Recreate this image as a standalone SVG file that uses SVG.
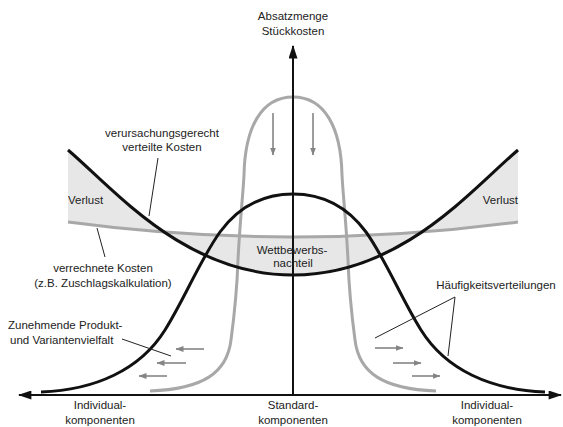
<svg xmlns="http://www.w3.org/2000/svg" width="563" height="427" viewBox="0 0 563 427">
<style>
text{font-family:"Liberation Sans",Arial,sans-serif;font-size:11.5px;fill:#222;text-anchor:middle}
.blk{fill:none;stroke:#111;stroke-width:3}
.gry{fill:none;stroke:#a8a8a8;stroke-width:3}
.ax{fill:none;stroke:#111;stroke-width:2}
.lead{fill:none;stroke:#222;stroke-width:1}
.ga{fill:none;stroke:#858585;stroke-width:1.6}
</style>
<defs>
<marker id="axh" viewBox="0 0 12 8" refX="11" refY="4" markerWidth="14" markerHeight="9" markerUnits="userSpaceOnUse" orient="auto-start-reverse">
<path d="M0,0 L12,4 L0,8 Z" fill="#111"/>
</marker>
<marker id="gh" viewBox="0 0 8 6" refX="7.5" refY="3" markerWidth="8" markerHeight="6" markerUnits="userSpaceOnUse" orient="auto">
<path d="M0,0 L8,3 L0,6 Z" fill="#858585"/>
</marker>
</defs>
<g id="cost-difference-area">
<path d="M68,150 C115,190 185,275 293,275 C401,275 471,190 518,150 L518,222 Q293,252 68,222 Z" fill="#e7e7e7" stroke="none"/>
</g>
<g id="verrechnete-kosten-curve"><path class="gry" d="M68,222 Q293,252 518,222"/></g>
<g id="gray-distribution"><path class="gry" d="M150,391 C203,389 227,373 231,340 C235,310 237,290 238,260 C240,220 243,195 244,175 C245,128 261,97 293,97 C325,97 341,128 342,175 C343,195 346,220 348,260 C349,290 351,310 355,340 C359,373 383,389 436,391"/></g>
<g id="black-distribution"><path class="blk" d="M41,392 C95,390 140,370 165,330 C185,298 200,260 220,232 C240,205 265,194 293,194 C321,194 346,205 366,232 C386,260 401,298 421,330 C446,370 491,390 545,392"/></g>
<g id="verteilte-kosten-curve"><path class="blk" d="M68,150 C115,190 185,275 293,275 C401,275 471,190 518,150"/></g>
<g id="axes">
<line class="ax" x1="293" y1="395" x2="293" y2="46" marker-end="url(#axh)"/>
<line class="ax" x1="19" y1="395" x2="561" y2="395" marker-start="url(#axh)" marker-end="url(#axh)"/>
</g>
<g id="connectors">
<line class="lead" x1="158" y1="158" x2="149" y2="216"/>
<line class="lead" x1="105" y1="257" x2="97" y2="228"/>
<line class="lead" x1="122" y1="339" x2="171" y2="356"/>
<line class="lead" x1="455" y1="297" x2="375" y2="338"/>
<line class="lead" x1="455" y1="297" x2="448" y2="356"/>
<line class="ga" x1="273" y1="113" x2="273" y2="155" marker-end="url(#gh)"/>
<line class="ga" x1="313" y1="113" x2="313" y2="155" marker-end="url(#gh)"/>
<line class="ga" x1="204" y1="349" x2="176" y2="349" marker-end="url(#gh)"/>
<line class="ga" x1="186" y1="363" x2="157" y2="363" marker-end="url(#gh)"/>
<line class="ga" x1="167" y1="376" x2="139" y2="376" marker-end="url(#gh)"/>
<line class="ga" x1="375" y1="348" x2="403" y2="348" marker-end="url(#gh)"/>
<line class="ga" x1="393" y1="363" x2="421" y2="363" marker-end="url(#gh)"/>
<line class="ga" x1="412" y1="376" x2="440" y2="376" marker-end="url(#gh)"/>
</g>
<g id="label-y-axis"><text x="293" y="20">Absatzmenge</text><text x="293" y="35">Stückkosten</text></g>
<g id="label-verteilte"><text x="162" y="137">verursachungsgerecht</text><text x="162" y="151">verteilte Kosten</text></g>
<g id="label-verlust-left"><text x="68" y="204" style="text-anchor:start">Verlust</text></g>
<g id="label-verlust-right"><text x="518" y="204" style="text-anchor:end">Verlust</text></g>
<g id="label-wettbewerb"><text x="292" y="254">Wettbewerbs-</text><text x="293" y="267">nachteil</text></g>
<g id="label-verrechnete"><text x="103" y="272">verrechnete Kosten</text><text x="103" y="287">(z.B. Zuschlagskalkulation)</text></g>
<g id="label-haeufigkeit"><text x="496" y="289">Häufigkeitsverteilungen</text></g>
<g id="label-zunehmende"><text x="8" y="329" style="text-anchor:start">Zunehmende Produkt-</text><text x="10" y="344" style="text-anchor:start">und Variantenvielfalt</text></g>
<g id="label-individual-left"><text x="100" y="409">Individual-</text><text x="100" y="424">komponenten</text></g>
<g id="label-standard"><text x="293" y="409">Standard-</text><text x="293" y="424">komponenten</text></g>
<g id="label-individual-right"><text x="487" y="409">Individual-</text><text x="487" y="424">komponenten</text></g>
</svg>
